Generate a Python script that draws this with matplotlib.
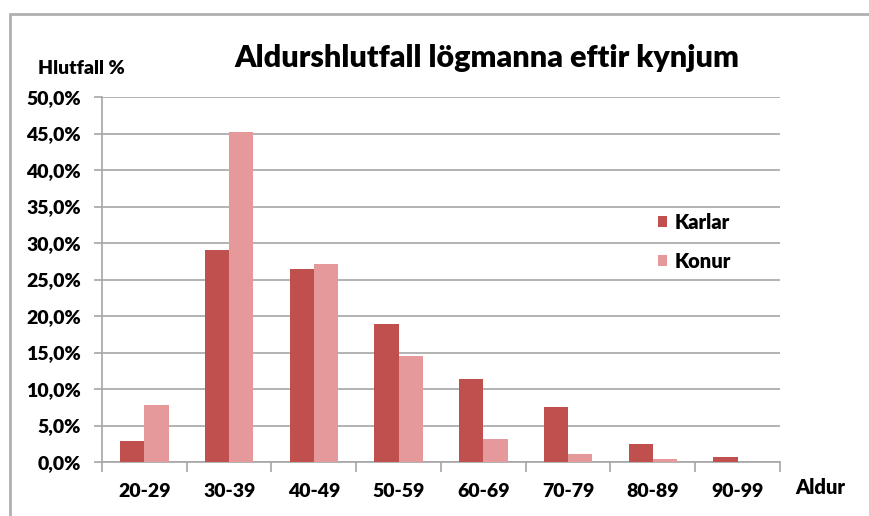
import numpy as np
import matplotlib
matplotlib.use("Agg")
import matplotlib.pyplot as plt
from matplotlib.patches import Rectangle
from matplotlib.ticker import FuncFormatter

plt.rcParams['font.family'] = ['Lato', 'DejaVu Sans']

groups = ["20-29", "30-39", "40-49", "50-59", "60-69", "70-79", "80-89", "90-99"]
karlar = [2.9, 29.0, 26.4, 18.9, 11.4, 7.6, 2.5, 0.65]
konur = [7.8, 45.2, 27.1, 14.5, 3.1, 1.1, 0.45, 0.0]

col_karlar = "#C0504D"
col_konur = "#E6999A"
grid_col = "#A6A6A6"
wt = "heavy"

fig = plt.figure(figsize=(8.7, 5.16), dpi=100)
# outer chart border
fig.patches.append(Rectangle((10/870, -0.1), 1.2, 1 - 14/516 + 0.1,
                             transform=fig.transFigure, fill=False,
                             edgecolor="#B0B0B0", linewidth=2))

ax = fig.add_axes([102/870, 1 - 462/516, 678/870, 365/516])
x = np.arange(len(groups))
w = 0.285
ax.bar(x - w/2, karlar, w, color=col_karlar, label="Karlar", zorder=3)
ax.bar(x + w/2, konur, w, color=col_konur, label="Konur", zorder=3)

ax.set_xlim(-0.5, len(groups) - 0.5)
ax.set_ylim(0, 50)
ax.set_yticks(np.arange(0, 51, 5))
ax.yaxis.set_major_formatter(FuncFormatter(lambda v, p: f"{v:.1f}%".replace(".", ",")))
ax.set_xticks(np.arange(-0.5, len(groups), 1))
ax.set_xticklabels([])
ax.set_xticks(x, minor=True)
ax.set_xticklabels(groups, minor=True, fontweight=wt, fontsize=14)
ax.tick_params(axis="x", which="minor", length=0, pad=15)
ax.tick_params(axis="x", which="major", length=7, color=grid_col, width=1.2)
ax.tick_params(axis="y", length=6, color=grid_col, width=1.2, pad=9, labelsize=14)
for lbl in ax.get_yticklabels():
    lbl.set_fontweight(wt)

ax.grid(axis="y", color=grid_col, linewidth=1.2, zorder=0)
for s in ["top", "right"]:
    ax.spines[s].set_visible(False)
for s in ["left", "bottom"]:
    ax.spines[s].set_color(grid_col)
    ax.spines[s].set_linewidth(1.2)

fig.text(487/870, 1 - 58/516, "Aldurshlutfall lögmanna eftir kynjum",
         ha="center", va="center", fontsize=22, fontweight=wt)
fig.text(38/870, 1 - 68/516, "Hlutfall %", ha="left", va="center",
         fontsize=14, fontweight=wt)
fig.text(795/870, 1 - 487/516, "Aldur", ha="left", va="center",
         fontsize=14.5, fontweight=wt)

leg = fig.legend(loc="center left", bbox_to_anchor=(640/870, 1 - 242/516),
                 frameon=False, fontsize=14.5, handlelength=0.45, handleheight=0.45,
                 handletextpad=0.35, labelspacing=1.0)
for t in leg.get_texts():
    t.set_fontweight(wt)

fig.savefig("out.png", dpi=100)
